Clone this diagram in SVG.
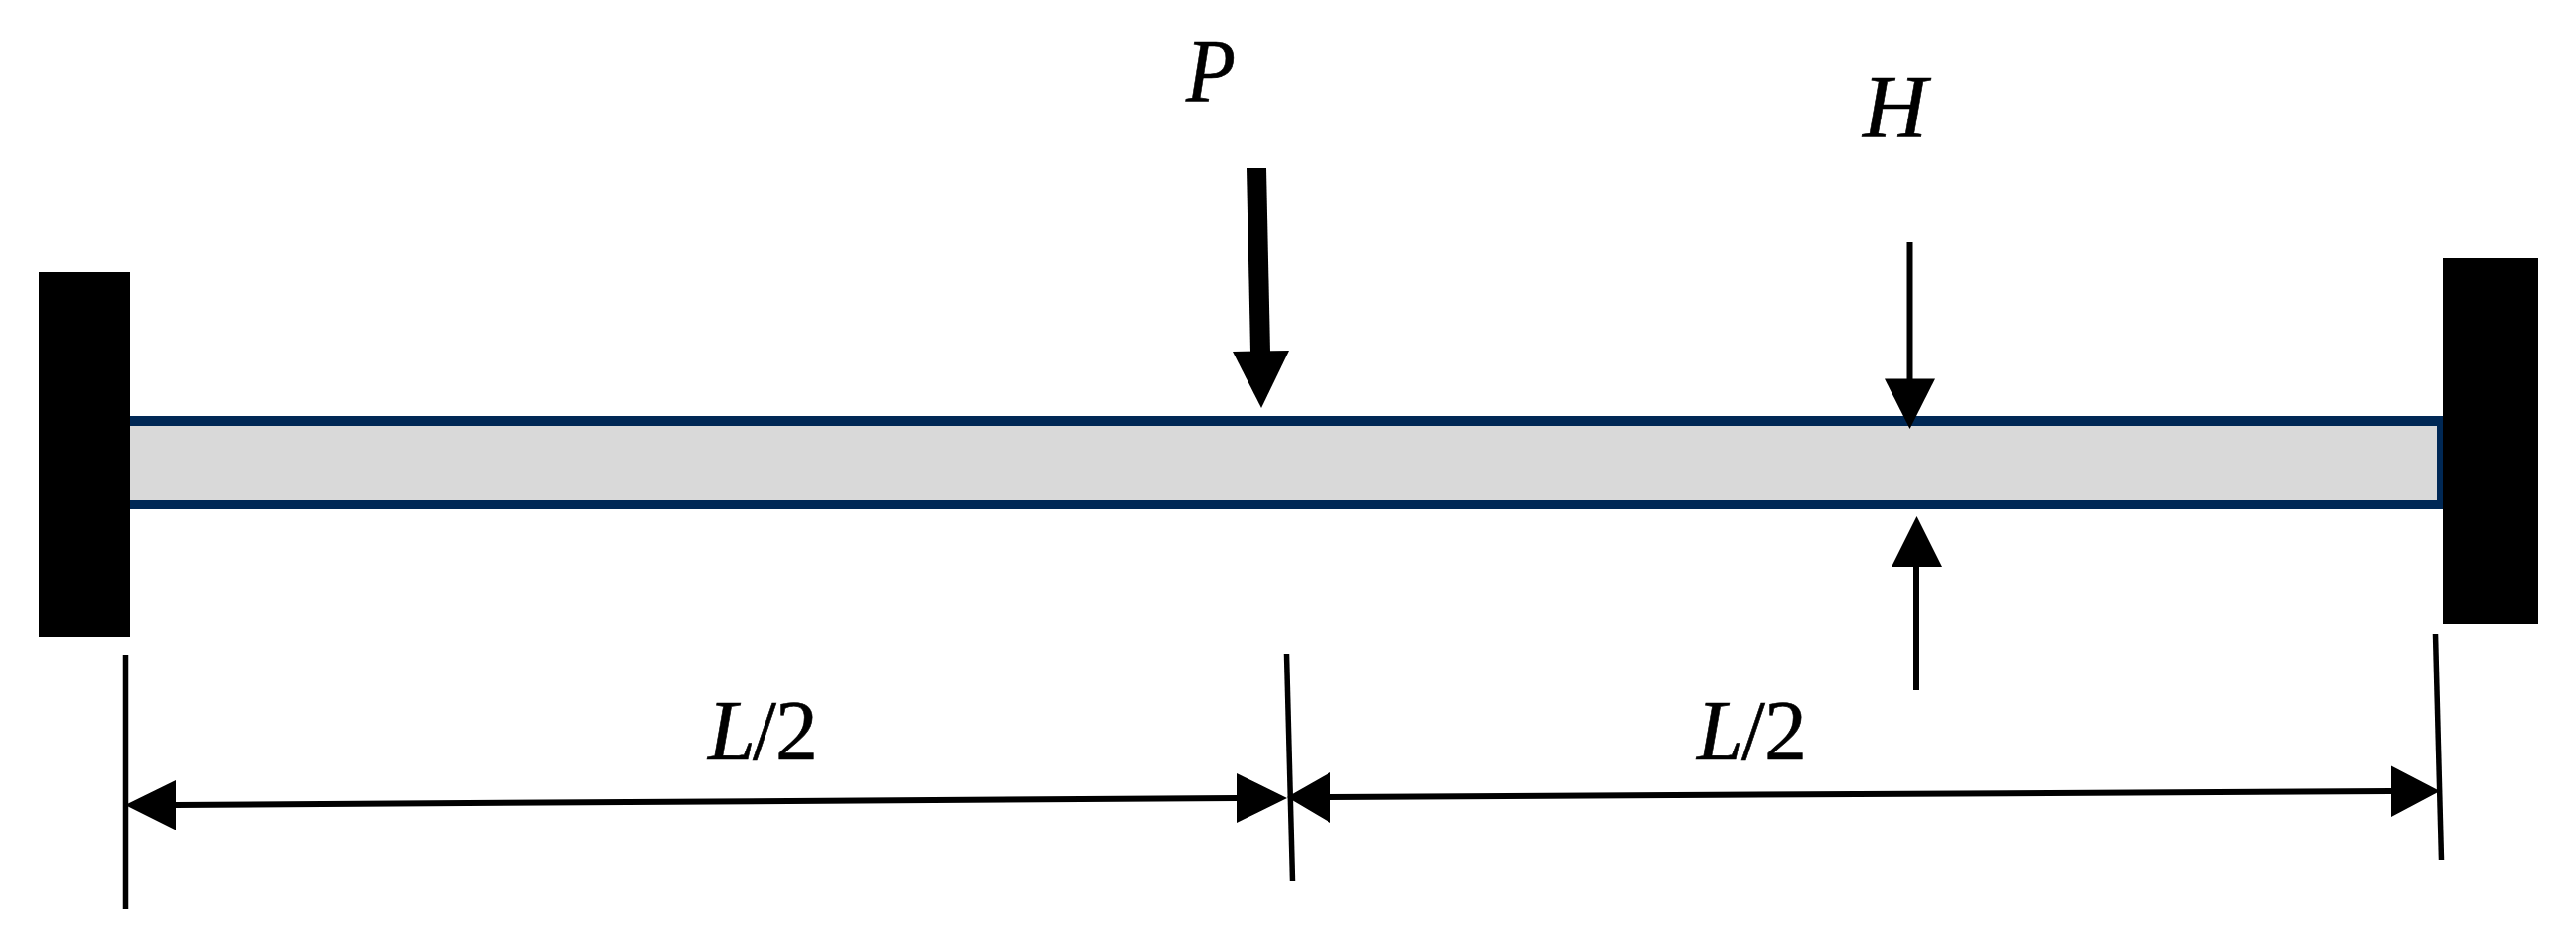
<svg xmlns="http://www.w3.org/2000/svg" width="2608" height="961" viewBox="0 0 2608 961">
<style>
.wall{fill:#000}
.line{stroke:#000;stroke-width:6;fill:none}
.tick{stroke:#000;stroke-width:5.500;fill:none}
.head{fill:#000}
.lbl{font-family:"Liberation Serif","Times New Roman",serif;font-style:italic;font-size:90px;fill:#000;stroke:#000;stroke-width:.6}
.dim{font-size:86px}
.up{font-style:normal}
</style>
<rect width="2608" height="961" fill="#fff"/>
<g id="beam">
<rect x="132" y="421" width="2341" height="94" fill="#002855"/>
<rect x="132" y="431" width="2335" height="75" fill="#d9d9d9"/>
</g>
<g id="wall-left"><rect class="wall" x="39" y="275" width="93" height="370"/></g>
<g id="wall-right"><rect class="wall" x="2473" y="261" width="97" height="371"/></g>
<g id="connectors">
<path class="tick" d="M127.500 663V920"/>
<path class="tick" d="M1302.500 662L1308.500 892"/>
<path class="tick" d="M2465.500 642L2471.500 871"/>
<path class="line" d="M178 815L1252 808"/>
<polygon class="head" points="127,815 178,790 178,840.500"/>
<polygon class="head" points="1303,808 1252,783 1252,833"/>
<path class="line" d="M1347 807L2421 801"/>
<polygon class="head" points="1303,807 1347,782 1347,833"/>
<polygon class="head" points="2470,801 2421,775.500 2421,827"/>
<path d="M1262 170H1282L1286 356H1266Z" fill="#000"/>
<polygon class="head" points="1248,356 1305,355 1277,413"/>
<path class="line" d="M1933.500 245V384"/>
<polygon class="head" points="1908,383.500 1959,383.500 1933.500,434"/>
<path class="line" d="M1940 574V699"/>
<polygon class="head" points="1915,574 1966,574 1940.500,523"/>
</g>
<g id="label-p"><text class="lbl" x="1201" y="103" textLength="50" lengthAdjust="spacingAndGlyphs">P</text></g>
<g id="label-h"><text class="lbl" x="1886" y="139">H</text></g>
<g id="label-l1"><text class="lbl dim" x="717" y="769">L<tspan class="up" x="762">/</tspan><tspan class="up" x="785">2</tspan></text></g>
<g id="label-l2"><text class="lbl dim" x="1718" y="769">L<tspan class="up" x="1763">/</tspan><tspan class="up" x="1786">2</tspan></text></g>
</svg>
